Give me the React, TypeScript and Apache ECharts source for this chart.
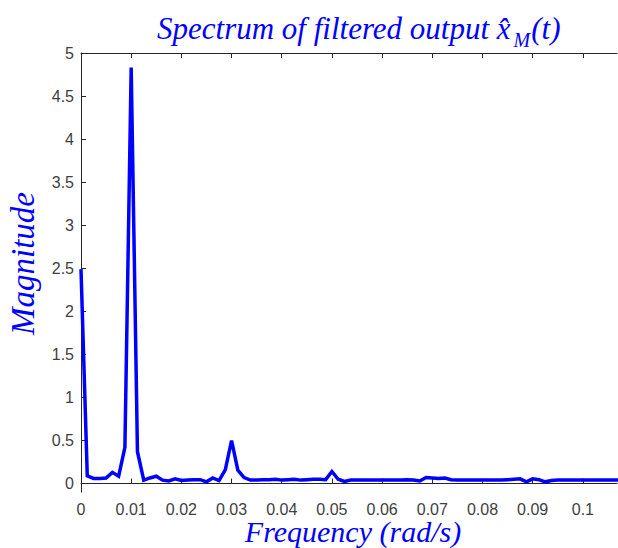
import React, { useEffect, useRef } from "react";
import * as echarts from "echarts";

// Frequency step (rad/s) and magnitudes
const freqStep = 0.00125;
const magnitudes = [
  2.49, 0.09, 0.06, 0.06, 0.065, 0.13, 0.085, 0.42, 4.83, 0.37,
  0.04, 0.065, 0.085, 0.04, 0.03, 0.055, 0.035, 0.04, 0.045, 0.045,
  0.02, 0.065, 0.035, 0.16, 0.5, 0.155, 0.07, 0.04, 0.04, 0.045,
  0.045, 0.05, 0.04, 0.045, 0.05, 0.04, 0.045, 0.05, 0.05, 0.045,
  0.14, 0.05, 0.025, 0.04, 0.04, 0.04, 0.04, 0.04, 0.04, 0.04,
  0.04, 0.04, 0.045, 0.04, 0.03, 0.07, 0.065, 0.06, 0.065, 0.045,
  0.04, 0.04, 0.04, 0.04, 0.04, 0.04, 0.04, 0.04, 0.045, 0.05,
  0.055, 0.02, 0.055, 0.045, 0.02, 0.035, 0.04, 0.04, 0.04, 0.04,
  0.04, 0.04, 0.04, 0.04, 0.04, 0.04, 0.04,
];
const xTicks = [0, 0.01, 0.02, 0.03, 0.04, 0.05, 0.06, 0.07, 0.08, 0.09, 0.1];
const yTicks = [0, 0.5, 1, 1.5, 2, 2.5, 3, 3.5, 4, 4.5, 5];

const axisColor = "#262626";
const labelColor = "#404040";
const serif = "Liberation Serif";

export default function App() {
  const ref = useRef<HTMLDivElement>(null);
  useEffect(() => {
    if (!ref.current) return;
    const chart = echarts.init(ref.current, null, { renderer: "svg" });
    const data = magnitudes.map((m, i) => [i * freqStep, m]);
    const fmt = (v: number) => String(+v.toFixed(4));
    const titleTok = {
      fontFamily: serif,
      fontStyle: "italic",
      fontWeight: "normal",
      fontSize: 31,
      color: "#0000ff",
      verticalAlign: "bottom",
      padding: [0, 0, 6, 0],
    };
    chart.setOption({
      animation: false,
      backgroundColor: "#ffffff",
      title: {
        text: "{a|Spectrum of filtered output }{x|x̂}{s|M}{a|(t)}",
        left: 152,
        top: 8,
        textStyle: {
          fontWeight: "normal",
          rich: {
            a: titleTok,
            x: { ...titleTok, padding: [0, 3, 6, 0] },
            s: { ...titleTok, fontSize: 20, padding: [0, 1, 0, 0] },
          },
        },
      },
      grid: { left: 81, right: 1, top: 53, bottom: 56, outerBoundsMode: "none", containLabel: false },
      xAxis: [
        {
          type: "value",
          min: 0,
          max: 0.1068,
          name: "Frequency (rad/s)",
          nameLocation: "middle",
          nameGap: 25,
          nameMoveOverlap: false,
          nameTextStyle: {
            fontFamily: serif,
            fontStyle: "italic",
            fontSize: 30,
            lineHeight: 29,
            color: "#0000ff",
            padding: [0, 0, 0, 8],
          },
          axisLine: { show: true, lineStyle: { color: axisColor, width: 1 } },
          axisTick: {
            show: true,
            inside: true,
            length: 5,
            customValues: xTicks,
            lineStyle: { color: axisColor },
          },
          axisLabel: {
            customValues: xTicks,
            formatter: fmt,
            color: labelColor,
            fontFamily: "Liberation Sans",
            fontSize: 16,
            margin: 9,
          },
          splitLine: { show: false },
        },
        {
          type: "value",
          position: "top",
          min: 0,
          max: 0.1068,
          axisLine: { show: true, lineStyle: { color: axisColor, width: 1 } },
          axisTick: {
            show: true,
            inside: true,
            length: 5,
            customValues: xTicks,
            lineStyle: { color: axisColor },
          },
          axisLabel: { show: false },
          splitLine: { show: false },
        },
      ],
      yAxis: {
        type: "value",
        min: -0.098,
        max: 5,
        name: "Magnitude",
        nameLocation: "middle",
        nameGap: 42,
        nameMoveOverlap: false,
        nameTextStyle: {
          fontFamily: serif,
          fontStyle: "italic",
          fontSize: 33,
          color: "#0000ff",
          padding: [0, 0, 0, 18],
        },
        axisLine: { show: true, lineStyle: { color: axisColor, width: 1 } },
        axisTick: {
          show: true,
          inside: true,
          length: 5,
          customValues: yTicks,
          lineStyle: { color: axisColor },
        },
        axisLabel: {
          customValues: yTicks,
          formatter: fmt,
          color: labelColor,
          fontFamily: "Liberation Sans",
          fontSize: 16,
          margin: 7,
        },
        splitLine: { show: false },
      },
      series: [
        {
          type: "line",
          data,
          showSymbol: false,
          symbol: "none",
          clip: true,
          lineStyle: { color: "#0000ff", width: 3.5, join: "miter" },
        },
      ],
    });
    return () => chart.dispose();
  }, []);
  return <div ref={ref} style={{ width: 618, height: 548, position: "absolute", left: 0, top: 0 }} />;
}
